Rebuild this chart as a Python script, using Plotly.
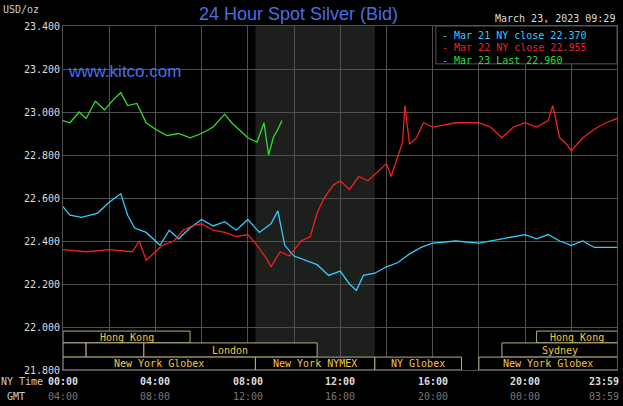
import plotly.graph_objects as go

# hours since 00:00 NY time
mar21_t = [0, 0.3, 0.8, 1.5, 2.0, 2.5, 2.8, 3.1, 3.6, 4.2, 4.6, 5.0, 5.5, 6.0, 6.5, 7.0, 7.5, 8.0,
           8.5, 9.0, 9.3, 9.6, 10.0, 10.5, 11.0, 11.5, 12.0, 12.4, 12.7, 13.0, 13.5, 14.0, 14.5,
           15.0, 15.5, 16.0, 17.0, 18.0, 19.0, 19.5, 20.0, 20.5, 21.0, 21.5, 22.0, 22.5, 23.0, 23.98]
mar21_v = [22.56, 22.52, 22.51, 22.53, 22.58, 22.62, 22.52, 22.46, 22.44, 22.38, 22.45, 22.41,
           22.46, 22.50, 22.47, 22.49, 22.45, 22.50, 22.44, 22.48, 22.54, 22.38, 22.33, 22.31,
           22.29, 22.24, 22.26, 22.20, 22.17, 22.24, 22.25, 22.28, 22.30, 22.34, 22.37, 22.39,
           22.40, 22.39, 22.41, 22.42, 22.43, 22.41, 22.43, 22.40, 22.38, 22.40, 22.37, 22.37]

mar22_t = [0, 1.0, 2.0, 3.0, 3.3, 3.6, 3.8, 4.3, 4.8, 5.2, 5.6, 6.0, 6.5, 7.0, 7.5, 8.0, 8.4,
           8.8, 9.0, 9.4, 9.8, 10.3, 10.7, 11.0, 11.3, 11.7, 12.0, 12.4, 12.8, 13.2, 13.6, 14.0,
           14.2, 14.5, 14.7, 14.8, 15.0, 15.3, 15.6, 16.0, 16.5, 17.0, 17.5, 18.0, 18.5, 19.0,
           19.5, 20.0, 20.5, 21.0, 21.2, 21.5, 21.8, 22.0, 22.5, 23.0, 23.5, 23.98]
mar22_v = [22.36, 22.35, 22.36, 22.35, 22.40, 22.31, 22.33, 22.38, 22.40, 22.45, 22.47, 22.48,
           22.45, 22.44, 22.42, 22.43, 22.38, 22.32, 22.28, 22.35, 22.33, 22.40, 22.42, 22.53,
           22.60, 22.66, 22.68, 22.64, 22.70, 22.68, 22.72, 22.76, 22.70, 22.80, 22.86, 23.03,
           22.85, 22.88, 22.95, 22.93, 22.94, 22.95, 22.95, 22.95, 22.93, 22.88, 22.93, 22.95,
           22.93, 22.96, 23.03, 22.88, 22.85, 22.82, 22.88, 22.92, 22.95, 22.97]

mar23_t = [0, 0.3, 0.7, 1.0, 1.4, 1.8, 2.2, 2.5, 2.8, 3.2, 3.6, 4.0, 4.5, 5.0, 5.5, 6.0, 6.5,
           7.0, 7.3, 7.7, 8.0, 8.4, 8.7, 8.9, 9.1, 9.3, 9.48]
mar23_v = [22.96, 22.95, 23.00, 22.97, 23.05, 23.01, 23.06, 23.09, 23.03, 23.04, 22.95, 22.92,
           22.89, 22.90, 22.88, 22.90, 22.93, 22.99, 22.95, 22.91, 22.88, 22.86, 22.95, 22.80,
           22.88, 22.92, 22.96]

y_ticks = [21.8, 22.0, 22.2, 22.4, 22.6, 22.8, 23.0, 23.2, 23.4]
ny_labels = ["00:00", "04:00", "08:00", "12:00", "16:00", "20:00", "23:59"]
gmt_labels = ["04:00", "08:00", "12:00", "16:00", "20:00", "00:00", "03:59"]
label_hours = [0, 4, 8, 12, 16, 20, 23.98]

# sessions: (row, start, end, label)
sessions = [
    (0, 0, 5.5, "Hong Kong"), (0, 20.5, 24, "Hong Kong"),
    (1, 0, 1, ""), (1, 1, 3.5, ""), (1, 3.5, 11, "London"), (1, 19, 24, "Sydney"),
    (2, 0, 8.33, "New York Globex"), (2, 8.33, 13.5, "New York NYMEX"),
    (2, 13.5, 17.25, "NY Globex"), (2, 18, 24, "New York Globex"),
]
row_edges = [(21.926, 21.981), (21.860, 21.926), (21.8, 21.860)]

legend_items = [("Mar 21 NY close 22.370", "#33ccff"),
                ("Mar 22 NY close 22.955", "#ee2222"),
                ("Mar 23 Last 22.960", "#33dd33")]

mono = "DejaVu Sans Mono"
fig = go.Figure()
fig.add_trace(go.Scatter(x=mar21_t, y=mar21_v, mode="lines", line=dict(color="#33ccff", width=1.3)))
fig.add_trace(go.Scatter(x=mar22_t, y=mar22_v, mode="lines", line=dict(color="#ee2222", width=1.3)))
fig.add_trace(go.Scatter(x=mar23_t, y=mar23_v, mode="lines", line=dict(color="#33dd33", width=1.3)))

shapes = [dict(type="rect", xref="x", yref="paper", x0=8.33, x1=13.5, y0=0, y1=1,
               fillcolor="#1c1f1c", line=dict(width=0), layer="below")]
ann = []
for row, a, b, lab in sessions:
    y0, y1 = row_edges[row]
    shapes.append(dict(type="rect", x0=a, x1=b, y0=y0, y1=y1, fillcolor="black",
                       line=dict(color="#b8b07a", width=1)))
    if lab:
        ann.append(dict(x=(a + b) / 2, y=(y0 + y1) / 2, text=lab, showarrow=False,
                        font=dict(family=mono, size=10, color="#f0c840")))
for h, n, g in zip(label_hours, ny_labels, gmt_labels):
    last = h == label_hours[-1]
    anchor = "right" if last else "center"
    xs = 4 if last else 0
    ann.append(dict(x=h, y=0, yref="paper", yshift=-4, xshift=xs, xanchor=anchor,
                    text="<b>" + n + "</b>", showarrow=False, yanchor="top",
                    font=dict(family=mono, size=10, color="#dddddd")))
    ann.append(dict(x=h, y=0, yref="paper", yshift=-19, xshift=xs, xanchor=anchor,
                    text=g, showarrow=False, yanchor="top",
                    font=dict(family=mono, size=10, color="#777777")))
ann += [
    dict(x=0, y=0, xref="paper", yref="paper", xshift=-64, yshift=-4, text="NY Time",
         showarrow=False, xanchor="left", yanchor="top",
         font=dict(family=mono, size=10, color="#cccccc")),
    dict(x=0, y=0, xref="paper", yref="paper", xshift=-36, yshift=-19, text="GMT",
         showarrow=False, xanchor="right", yanchor="top",
         font=dict(family=mono, size=10, color="#cccccc")),
    dict(x=0, y=1, xref="paper", yref="paper", xshift=-62, yshift=9, text="USD/oz",
         showarrow=False, xanchor="left", yanchor="bottom",
         font=dict(family=mono, size=10, color="#cccccc")),
    dict(x=0.425, y=1.0, xref="paper", yref="paper", text="24 Hour Spot Silver (Bid)",
         showarrow=False, yanchor="bottom", font=dict(family="Liberation Sans", size=18, color="#4a6fe0")),
    dict(x=1.0, y=1.0, xref="paper", yref="paper", text="March 23, 2023 09:29", showarrow=False,
         xanchor="right", yanchor="bottom", font=dict(family=mono, size=10, color="#dddddd")),
    dict(x=0.005, y=0.9, xref="paper", yref="paper", text="www.kitco.com", showarrow=False,
         xanchor="left", font=dict(family="Liberation Sans", size=17, color="#4a6fe0")),
]
shapes.append(dict(type="rect", xref="paper", yref="paper", x0=0.673, x1=1.0, y0=0.89, y1=1.0,
                   fillcolor="black", line=dict(color="#555555", width=1)))
for i, (txt, col) in enumerate(legend_items):
    ann.append(dict(x=0.68, y=0.995 - i * 0.037, xref="paper", yref="paper", text="- " + txt,
                    showarrow=False, xanchor="left", yanchor="top",
                    font=dict(family=mono, size=10, color=col)))

fig.update_layout(
    width=623, height=406, paper_bgcolor="black", plot_bgcolor="black",
    margin=dict(l=63, r=6, t=26, b=36, autoexpand=False), showlegend=False,
    shapes=shapes, annotations=ann,
    xaxis=dict(range=[0, 23.98], dtick=2, showticklabels=False, gridcolor="#505050",
               zeroline=False, showline=True, linecolor="#505050", mirror=True, automargin=False),
    yaxis=dict(range=[21.8, 23.4], tickvals=y_ticks, tickformat=".3f", gridcolor="#505050",
               zeroline=False, showline=True, linecolor="#505050", mirror=True, automargin=False,
               tickfont=dict(family=mono, size=10, color="#dddddd")),
)
# drop the default page margin so the figure sits at the window's corner
fig.write_html("out.html", config={"displayModeBar": False},
               post_script="document.body.style.margin='0';document.body.style.background='black';")
